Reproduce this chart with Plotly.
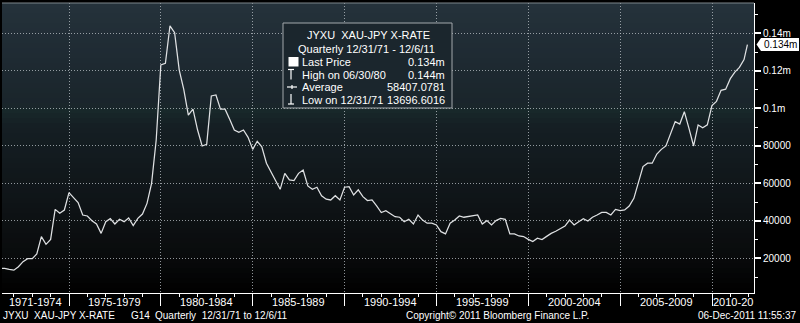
import plotly.graph_objects as go
import pandas as pd

# ---- data -------------------------------------------------------------
# Quarter-end dates 1971Q1 .. 2011Q3, then the latest fixing
DATES = [f"{y}-{md}" for y in range(1971, 2012)
         for md in ("03-31", "06-30", "09-30", "12-31")][:163] + ["2011-12-06"]

# Gold price in yen (XAU-JPY), quarterly
XAU_JPY = [
    14650, 14650, 14100, 13696.6016,      # 1971
    15540, 18200, 19800, 19800,           # 1972
    22300, 31540, 27450, 30100,           # 1973
    46100, 44000, 45750, 55000,           # 1974
    52350, 49700, 43100, 42560,           # 1975
    40070, 38300, 33300, 39540,           # 1976
    41140, 38300, 40800, 39540,           # 1977
    41500, 37400, 41300, 43600,           # 1978
    49300, 60000, 83100, 123100,          # 1979
    124000, 144000, 140300, 120400,       # 1980
    110100, 96400, 99500, 88400,          # 1981
    79900, 80800, 106600, 107100,         # 1982
    99500, 99500, 94100, 88400,           # 1983
    87200, 88400, 84500, 78100,           # 1984
    82400, 79500, 70700, 66200,           # 1985
    61800, 56800, 65300, 61800,           # 1986
    61400, 65300, 67100, 58600,           # 1987
    56800, 57900, 53300, 51500,           # 1988
    51100, 53400, 51100, 57900,           # 1989
    58200, 53800, 56500, 52900,           # 1990
    50800, 51100, 47900, 44400,           # 1991
    45400, 43600, 42200, 41900,           # 1992
    39500, 40800, 38300, 43100,           # 1993
    40400, 38700, 38700, 37800,           # 1994
    34200, 33000, 38700, 40400,           # 1995
    42600, 41900, 42200, 42600,           # 1996
    43100, 38300, 40100, 37800,           # 1997
    40100, 41300, 40800, 33000,           # 1998
    33000, 31900, 31600, 30100,           # 1999
    28900, 30700, 30000, 31700,           # 2000
    33300, 34400, 35600, 37200,           # 2001
    40400, 37800, 39500, 41100,           # 2002
    39900, 41900, 43100, 44500,           # 2003
    44500, 43100, 46100, 45400,           # 2004
    45800, 47900, 52000, 60900,           # 2005
    68900, 70700, 70700, 75600,           # 2006
    78100, 79900, 86700, 92900,           # 2007
    91600, 98200, 89300, 79900,           # 2008
    91100, 89600, 91200, 101500,          # 2009
    103700, 109600, 110200, 115800,       # 2010
    119300, 121800, 126000, 134000,       # 2011 (last: 12/6/11)
]

Y_TICKS = [20000, 40000, 60000, 80000, 100000, 120000, 140000]
Y_TICK_TEXT = ["20000", "40000", "60000", "80000", "0.1m", "0.12m", "0.14m"]
Y_MINOR = [10000, 30000, 50000, 70000, 90000, 110000, 130000, 150000]

PERIOD_STARTS = ["1971-01-01", "1975-01-01", "1980-01-01", "1985-01-01", "1990-01-01",
                 "1995-01-01", "2000-01-01", "2005-01-01", "2010-01-01"]
PERIOD_LABELS = ["1971-1974", "1975-1979", "1980-1984", "1985-1989", "1990-1994",
                 "1995-1999", "2000-2004", "2005-2009", "2010-20"]

LEGEND_TITLE = "JYXU\u00a0\u00a0XAU-JPY X-RATE"
LEGEND_SUB = "Quarterly 12/31/71 - 12/6/11"
LEGEND_ROWS = [("Last Price", "0.134m"),
               ("High on 06/30/80", "0.144m"),
               ("Average", "58407.0781"),
               ("Low on 12/31/71", "13696.6016")]
LAST_LABEL = "0.134m"

FOOT_LEFT = ["JYXU\u00a0\u00a0XAU-JPY X-RATE", "G14", "Quarterly\u00a0\u00a012/31/71 to 12/6/11"]
FOOT_COPY = "Copyright\u00a9 2011 Bloomberg Finance L.P."
FOOT_STAMP = "06-Dec-2011 11:55:37"

# ---- geometry ---------------------------------------------------------
W, H = 800, 323
PL, PR, PT, PB = 2, 754, 3, 293          # plot area in pixels
X_START, X_END = "1971-05-09", "2012-04-15"
Y0, Y1 = 1500, 156150
FONT = "Liberation Sans"


def px(x):
    return (x - PL) / (PR - PL)


def py(y):
    return (PB - y) / (PB - PT)


fig = go.Figure()
fig.add_trace(go.Scatter(x=DATES, y=XAU_JPY, mode="lines",
                         line=dict(color="#dfe1e3", width=1.25),
                         hoverinfo="skip", showlegend=False))

shapes = []
# background gradient of the plotting panel
stops = [(3, (37, 50, 59)), (60, (30, 42, 50)), (104, (26, 37, 43)), (110, (24, 40, 42)),
         (125, (21, 31, 36)), (200, (15, 20, 23)), (255, (9, 11, 12)), (293, (0, 0, 0))]


def grad(y):
    for (ya, ca), (yb, cb) in zip(stops[:-1], stops[1:]):
        if ya <= y <= yb:
            f = (y - ya) / (yb - ya)
            return tuple(round(a + (b - a) * f) for a, b in zip(ca, cb))
    return stops[-1][1]


step = 5
for y in range(PT, PB, step):
    c = grad(y + step / 2)
    shapes.append(dict(type="rect", xref="paper", yref="paper", layer="below",
                       x0=0, x1=1, y0=py(min(y + step, PB)), y1=py(y),
                       line=dict(width=0), fillcolor=f"rgb{c}"))

# thin top border
shapes.append(dict(type="line", xref="paper", yref="paper", x0=0, x1=1, y0=1, y1=1,
                   line=dict(color="#7d858b", width=1)))

# legend box
LB_L, LB_R, LB_T, LB_B = 283, 452, 23, 108
shapes.append(dict(type="rect", xref="paper", yref="paper", layer="above",
                   x0=px(LB_L), x1=px(LB_R), y0=py(LB_B), y1=py(LB_T),
                   fillcolor="#1b262d", line=dict(color="#a3a8ac", width=1)))
row_y = [62, 74.5, 87, 99.5]
# icons: last price square, high marker, average marker, low marker
shapes.append(dict(type="rect", xref="paper", yref="paper", layer="above",
                   x0=px(288.5), x1=px(298.5), y0=py(66.5), y1=py(57),
                   fillcolor="white", line=dict(width=0)))
icon = dict(color="white", width=1.2)
shapes += [
    dict(type="line", xref="paper", yref="paper", x0=px(288), x1=px(294), y0=py(69.5), y1=py(69.5), line=icon),
    dict(type="line", xref="paper", yref="paper", x0=px(291), x1=px(291), y0=py(69.5), y1=py(79.5), line=icon),
    dict(type="line", xref="paper", yref="paper", x0=px(287), x1=px(297), y0=py(87), y1=py(87), line=icon),
    dict(type="line", xref="paper", yref="paper", x0=px(292), x1=px(292), y0=py(85), y1=py(89), line=icon),
    dict(type="line", xref="paper", yref="paper", x0=px(291), x1=px(291), y0=py(94), y1=py(104), line=icon),
    dict(type="line", xref="paper", yref="paper", x0=px(288), x1=px(294), y0=py(104), y1=py(104), line=icon),
]

# last-price tag on the value axis
last_val = XAU_JPY[-1]
dv = (Y1 - Y0) / (PB - PT)      # data units per pixel
tag = (f"M {px(756.5)},{last_val} L {px(761)},{last_val + 6.5 * dv} "
       f"L {px(799)},{last_val + 6.5 * dv} L {px(799)},{last_val - 6.5 * dv} "
       f"L {px(761)},{last_val - 6.5 * dv} Z")
shapes.append(dict(type="path", xref="paper", yref="y", path=tag,
                   fillcolor="white", line=dict(width=0), layer="above"))

annotations = []
# period labels under the time axis, centred in the visible part of each period
x_lo, x_hi = pd.Timestamp(X_START), pd.Timestamp(X_END)
bounds = [pd.Timestamp(s) for s in PERIOD_STARTS] + [pd.Timestamp("2015-01-01")]
for i, lab in enumerate(PERIOD_LABELS):
    a, b = max(bounds[i], x_lo), min(bounds[i + 1], x_hi)
    mid = a + (b - a) / 2
    annotations.append(dict(x=mid.strftime("%Y-%m-%d %H:%M"), xref="x", y=py(301.5), yref="paper",
                            text=lab, showarrow=False, xanchor="center", yanchor="middle",
                            font=dict(family=FONT, size=11, color="white")))

# legend texts
annotations.append(dict(x=px(368), y=py(35), xref="paper", yref="paper", text=LEGEND_TITLE,
                        showarrow=False, xanchor="center", yanchor="middle",
                        font=dict(family=FONT, size=11, color="white")))
annotations.append(dict(x=px(366), y=py(48.5), xref="paper", yref="paper", text=LEGEND_SUB,
                        showarrow=False, xanchor="center", yanchor="middle",
                        font=dict(family=FONT, size=11, color="white")))
for (name, val), yy in zip(LEGEND_ROWS, row_y):
    annotations.append(dict(x=px(300), y=py(yy), xref="paper", yref="paper", text=name,
                            showarrow=False, xanchor="left", yanchor="middle",
                            font=dict(family=FONT, size=11, color="white")))
    annotations.append(dict(x=px(447), y=py(yy), xref="paper", yref="paper", text=val,
                            showarrow=False, xanchor="right", yanchor="middle",
                            font=dict(family=FONT, size=11, color="white")))

# last-price tag text
annotations.append(dict(x=px(780), y=last_val, xref="paper", yref="y", text=LAST_LABEL,
                        showarrow=False, xanchor="center", yanchor="middle",
                        font=dict(family=FONT, size=10, color="black")))

# footer
foot_font = dict(family=FONT, size=10, color="white")
for txt, xx in zip(FOOT_LEFT, [0.5, 129, 153]):
    annotations.append(dict(x=px(xx), y=py(315), xref="paper", yref="paper", text=txt,
                            showarrow=False, xanchor="left", yanchor="middle", font=foot_font))
annotations.append(dict(x=px(404), y=py(315), xref="paper", yref="paper", text=FOOT_COPY,
                        showarrow=False, xanchor="left", yanchor="middle", font=foot_font))
annotations.append(dict(x=px(798), y=py(315), xref="paper", yref="paper", text=FOOT_STAMP,
                        showarrow=False, xanchor="right", yanchor="middle", font=foot_font))

grid_col = "rgba(190,196,202,0.75)"
fig.update_layout(
    width=W, height=H,
    margin=dict(l=PL, r=W - PR, t=PT, b=H - PB, pad=0),
    paper_bgcolor="black", plot_bgcolor="black",
    showlegend=False,
    shapes=shapes, annotations=annotations,
    xaxis=dict(type="date", range=[X_START, X_END], tickmode="array",
               tickvals=PERIOD_STARTS[1:], showticklabels=False,
               ticks="outside", ticklen=12, tickwidth=1, tickcolor="white",
               showgrid=True, gridcolor=grid_col, gridwidth=1, griddash="1px,2px",
               showline=True, linecolor="white", linewidth=1, zeroline=False,
               minor=dict(ticks="outside", ticklen=3, tickcolor="white", tickwidth=1,
                          tick0="1971-01-01", dtick="M12", showgrid=False),
               fixedrange=True),
    yaxis=dict(side="right", range=[Y0, Y1], tickmode="array",
               tickvals=Y_TICKS, ticktext=Y_TICK_TEXT,
               ticks="outside", ticklen=6, tickwidth=2, tickcolor="white",
               tickfont=dict(family=FONT, size=10, color="white"),
               showgrid=True, gridcolor=grid_col, gridwidth=1, griddash="1px,2px",
               showline=True, linecolor="white", linewidth=1, zeroline=False,
               minor=dict(tickvals=Y_MINOR, ticks="outside", ticklen=3,
                          tickcolor="white", tickwidth=1, showgrid=False),
               fixedrange=True),
)

fig.write_html("out.html")
